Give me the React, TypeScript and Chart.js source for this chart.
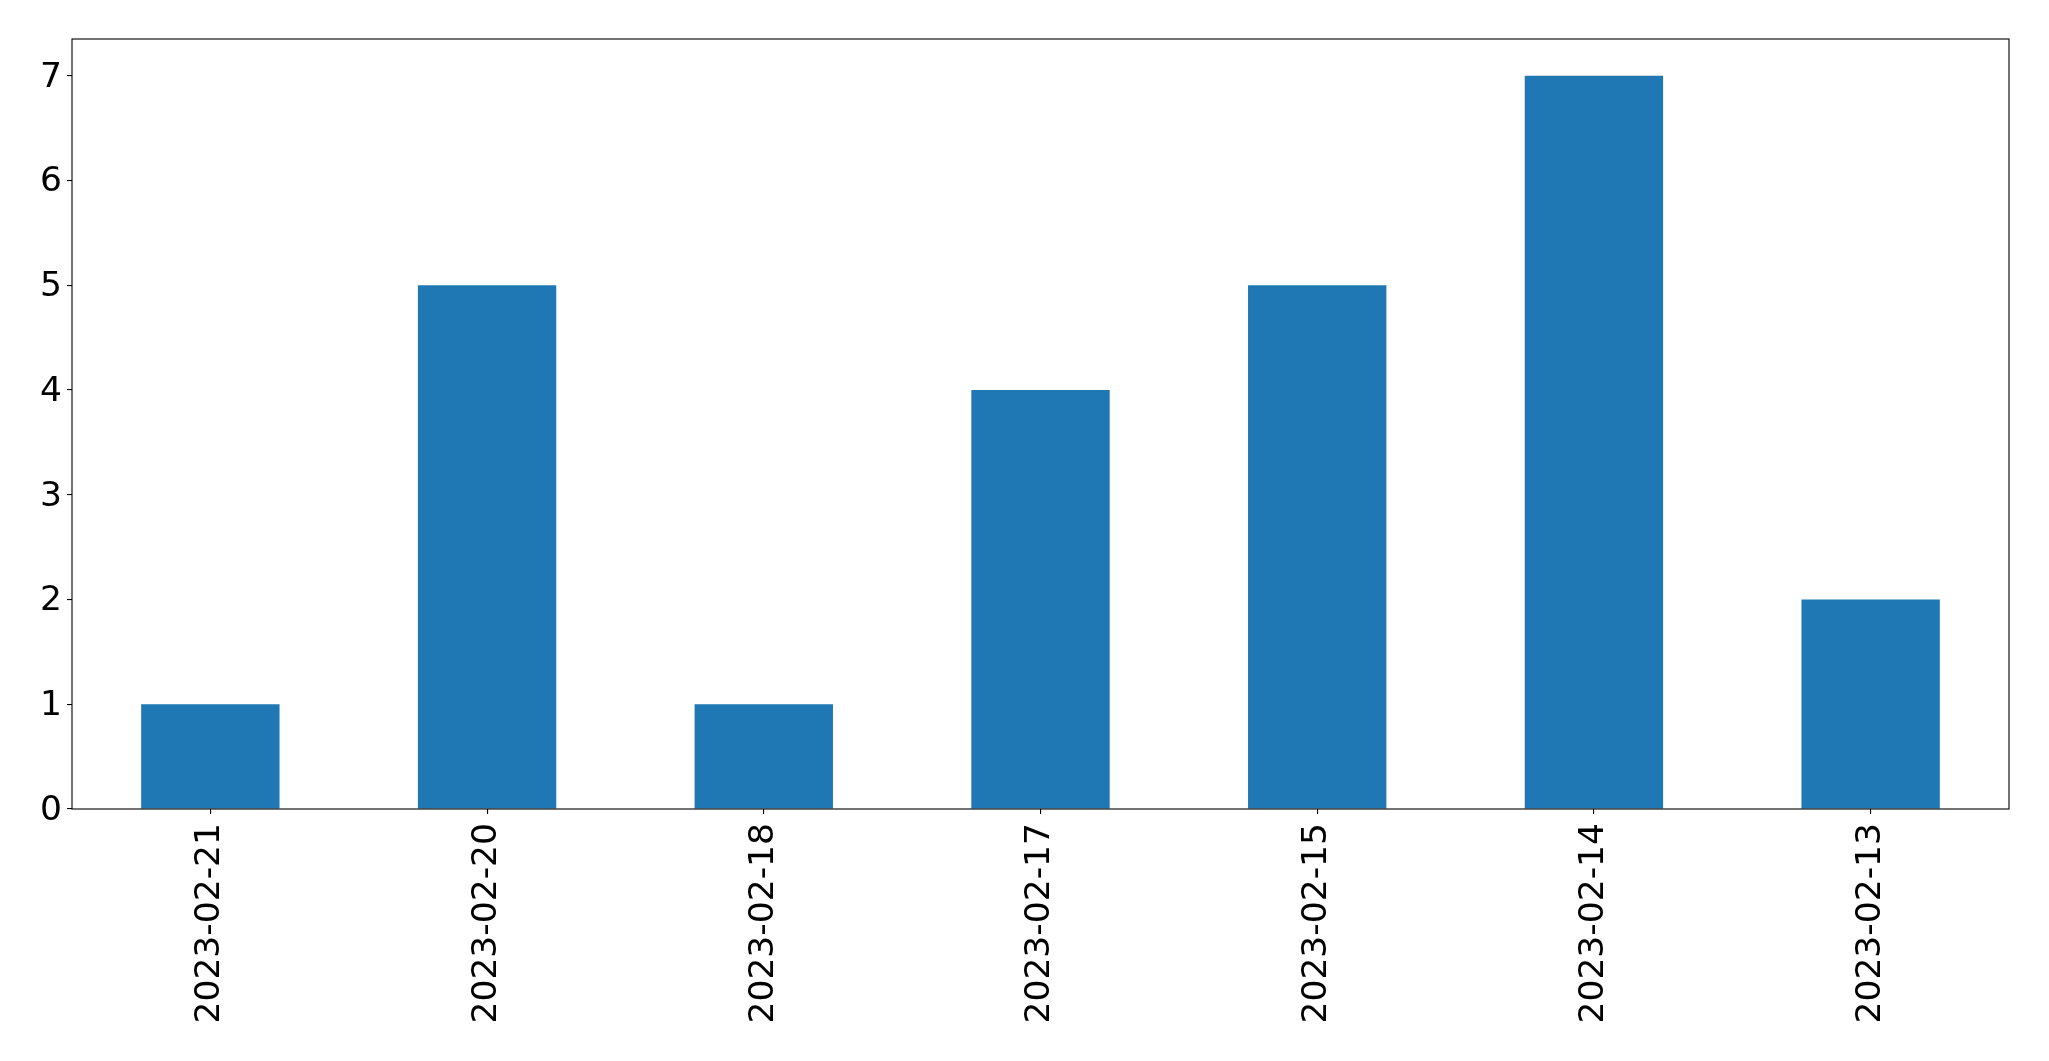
import React, { useEffect, useRef } from "react";
import { Chart, registerables } from "chart.js";

Chart.register(...registerables);

const categories = ["2023-02-21", "2023-02-20", "2023-02-18", "2023-02-17", "2023-02-15", "2023-02-14", "2023-02-13"];
const counts = [1, 5, 1, 4, 5, 7, 2];
const yTicks = [0, 1, 2, 3, 4, 5, 6, 7];

const W = 2049;
const H = 1061;
const FONT = "'DejaVu Sans', sans-serif";

const frame = {
  id: "frame",
  afterDraw(chart: any) {
    const { ctx, chartArea } = chart;
    ctx.save();
    ctx.strokeStyle = "#000";
    ctx.lineWidth = 1.1;
    ctx.strokeRect(chartArea.left, chartArea.top, chartArea.right - chartArea.left, chartArea.bottom - chartArea.top);
    ctx.restore();
  },
};

export default function App() {
  const ref = useRef<HTMLCanvasElement>(null);
  useEffect(() => {
    const chart = new Chart(ref.current!, {
      type: "bar",
      data: {
        labels: categories,
        datasets: [
          {
            data: counts,
            backgroundColor: "#1f77b4",
            borderWidth: 0,
            barPercentage: 0.5,
            categoryPercentage: 1,
          },
        ],
      },
      plugins: [frame],
      options: {
        responsive: false,
        animation: false,
        devicePixelRatio: 1,
        layout: { padding: { left: 0, top: 39, right: 40, bottom: 0 } },
        plugins: { legend: { display: false }, tooltip: { enabled: false } },
        scales: {
          x: {
            type: "category",
            offset: true,
            grid: { display: true, drawOnChartArea: false, drawTicks: true, tickLength: 5, offset: false, color: "#000", lineWidth: 1.1 },
            border: { display: false },
            ticks: { color: "#000", font: { family: FONT, size: 34.5 }, minRotation: 90, maxRotation: 90, padding: 9, autoSkip: false },
            afterFit: (s: any) => { s.height = H - 809; },
          },
          y: {
            min: 0,
            max: 7.35,
            afterBuildTicks: (s: any) => { s.ticks = yTicks.map((v) => ({ value: v })); },
            grid: { display: true, drawOnChartArea: false, drawTicks: true, tickLength: 5, color: "#000", lineWidth: 1.1 },
            border: { display: false },
            ticks: { color: "#000", font: { family: FONT, size: 34.5 }, padding: 5, labelOffset: 2 },
            afterFit: (s: any) => { s.width = 72; },
          },
        },
      },
    } as any);
    return () => chart.destroy();
  }, []);
  return (
    <div style={{ position: "fixed", left: 0, top: 0, width: W, height: H, background: "#fff" }}>
      <canvas ref={ref} width={W} height={H} style={{ width: W, height: H, display: "block" }} />
    </div>
  );
}
